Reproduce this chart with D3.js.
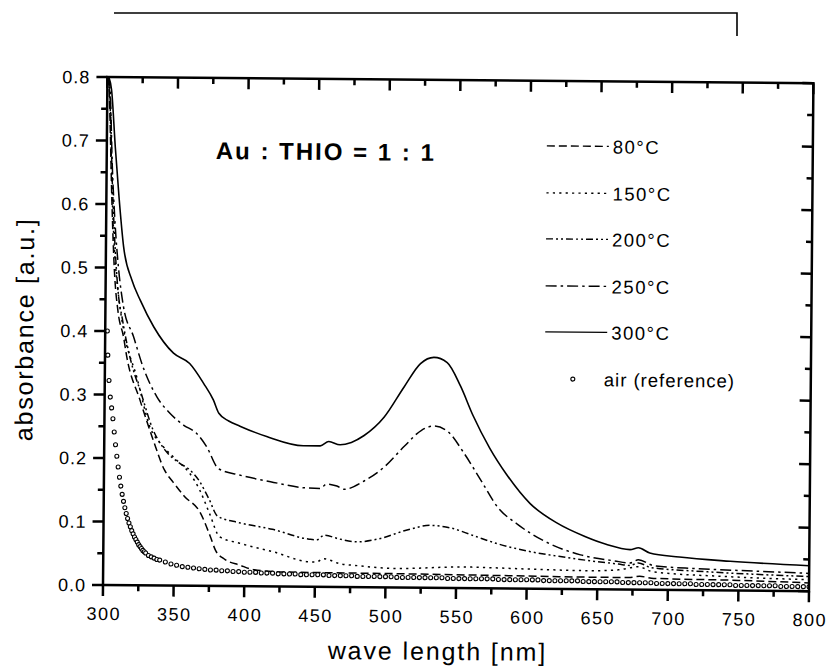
<!DOCTYPE html>
<html>
<head>
<meta charset="utf-8">
<script src="https://cdn.jsdelivr.net/npm/d3@7"></script>
<style>
  body { margin: 0; background: #fff; }
  svg { display: block; }
  text { font-family: "Liberation Sans", Arial, sans-serif; fill: #000; }
</style>
</head>
<body>
<div id="chart"></div>
<script>
// wavelength [nm], absorbance [a.u.]
const t80 = [[301,0.80],[302,0.74],[304,0.60],[306,0.50],[309,0.43],[313,0.391],[315.4,0.36],[325,0.292],[334.5,0.23],
  [342.8,0.182],[349,0.163],[357,0.141],[368.5,0.115],[375.5,0.079],[379.5,0.056],[385.5,0.043],[397,0.033],[407,0.026],
  [430,0.023],[500,0.022],[550,0.021],[600,0.020],[650,0.019],[672,0.019],[680,0.021],[690,0.018],[750,0.016],[800,0.013]];

const t150 = [[301,0.80],[302,0.76],[304,0.62],[306,0.53],[309,0.46],[313,0.402],[322.6,0.328],[332.2,0.250],[341.7,0.219],
  [351.3,0.198],[360.7,0.177],[367.9,0.151],[375,0.114],[382.3,0.0775],[396.5,0.0676],[420,0.0548],[446,0.0393],[451,0.039],
  [455.8,0.0446],[467.6,0.0368],[480,0.034],[508,0.030],[555,0.0333],[600,0.031],[645,0.0292],[665,0.031],[679,0.036],
  [690,0.028],[740,0.022],[800,0.018]];

const t200 = [[301,0.80],[302,0.77],[304,0.64],[306,0.55],[309,0.46],[312,0.42],[315.4,0.381],[320,0.34],[325,0.308],
  [334.5,0.245],[344,0.211],[353.4,0.193],[360.5,0.183],[367.6,0.165],[374.7,0.136],[380.7,0.110],[396,0.100],[419.6,0.090],
  [445.7,0.075],[451,0.074],[456.4,0.0815],[467,0.0757],[479.5,0.0714],[496,0.077],[515,0.0908],[531.5,0.0984],
  [545.7,0.0947],[562,0.0829],[579,0.0705],[602.5,0.0584],[626,0.0503],[645,0.0448],[665,0.040],[673,0.038],[679,0.042],
  [688,0.035],[720,0.030],[760,0.026],[800,0.023]];

const t250 = [[301,0.80],[302,0.78],[304,0.66],[306,0.58],[309,0.50],[312.8,0.4385],[320,0.392],[327,0.344],[337,0.297],
  [346.5,0.271],[356,0.253],[365.4,0.240],[372.6,0.219],[381,0.185],[396,0.175],[418,0.165],[441,0.156],[453,0.155],
  [458,0.162],[465,0.159],[470,0.154],[484,0.167],[498.6,0.190],[512.7,0.223],[524.6,0.248],[533.6,0.255],[543.5,0.246],
  [555,0.212],[567,0.170],[579,0.128],[593,0.1015],[612,0.0755],[638,0.054],[662,0.045],[673,0.042],[679,0.047],
  [690,0.038],[720,0.034],[760,0.031],[800,0.028]];

const t300 = [[301,0.80],[303,0.78],[306,0.69],[309,0.61],[312.5,0.533],[318.5,0.481],[324.6,0.449],[334.4,0.407],
  [348.5,0.366],[360,0.350],[370,0.319],[377,0.293],[381,0.272],[388,0.260],[396,0.252],[415,0.236],[441,0.222],
  [453,0.222],[459,0.229],[467,0.224],[475,0.228],[484,0.239],[498,0.268],[512,0.316],[523.5,0.353],[533,0.363],
  [542.4,0.355],[552,0.318],[561,0.272],[573,0.221],[585,0.180],[602,0.134],[621,0.104],[641,0.083],[656,0.071],
  [673,0.063],[679,0.066],[687,0.058],[708,0.052],[744,0.046],[800,0.040]];

const airRef = [[301.5,0.400],[302,0.362],[303,0.322],[304,0.296],[305,0.279],[306,0.262],[307,0.241],[308,0.221],
  [309,0.203],[310,0.186],[311,0.170],[312,0.156],[313,0.143],[314,0.132],[315,0.122],[316,0.113],[317,0.105],[318,0.098],
  [319,0.092],[320,0.086],[321,0.081],[322,0.076],[323,0.072],[324,0.068],[325,0.064],[326,0.061],[327,0.058],[328,0.055],
  [329,0.053],[330,0.051],[332,0.047],[334,0.045],[336,0.043],[338,0.041],[340,0.040],[344,0.037],[348,0.034],[352,0.032],
  [356,0.030],[360,0.029],[364,0.028],[368,0.027],[372,0.026],[376,0.025],[380,0.025],[384,0.024],[388,0.024],[392,0.023],
  [396,0.023],[400,0.022],[404,0.022],[408,0.022],[412,0.021],[416,0.021],[420,0.021],[424,0.020],[428,0.020],[432,0.020],
  [436,0.020],[440,0.019],[444,0.019],[448,0.019],[452,0.019],[456,0.019],[460,0.018],[464,0.018],[468,0.018],[472,0.018],
  [476,0.018],[480,0.017],[484,0.017],[488,0.017],[492,0.017],[496,0.017],[500,0.017],[504,0.017],[508,0.016],[512,0.016],
  [516,0.016],[520,0.016],[524,0.016],[528,0.016],[532,0.016],[536,0.016],[540,0.016],[544,0.015],[548,0.015],[552,0.015],
  [556,0.015],[560,0.015],[564,0.015],[568,0.015],[572,0.015],[576,0.015],[580,0.014],[584,0.014],[588,0.014],[592,0.014],
  [596,0.014],[600,0.014],[604,0.014],[608,0.014],[612,0.013],[616,0.013],[620,0.013],[624,0.013],[628,0.013],[632,0.013],
  [636,0.013],[640,0.012],[644,0.012],[648,0.012],[652,0.012],[656,0.012],[660,0.012],[664,0.012],[668,0.011],[672,0.011],
  [676,0.011],[680,0.011],[684,0.011],[688,0.011],[692,0.010],[696,0.010],[700,0.010],[704,0.010],[708,0.010],[712,0.010],
  [716,0.010],[720,0.009],[724,0.009],[728,0.009],[732,0.009],[736,0.009],[740,0.009],[744,0.009],[748,0.008],[752,0.008],
  [756,0.008],[760,0.008],[764,0.008],[768,0.008],[772,0.008],[776,0.008],[780,0.007],[784,0.007],[788,0.007],[792,0.007],
  [796,0.007],[800,0.007]];

const seriesNames = ["80°C", "150°C", "200°C", "250°C", "300°C"];
const seriesData  = [t80, t150, t200, t250, t300];
const dashes      = ["8,4", "2.2,4.2", "7,3,2,3,2,3", "11,4,2.5,4", null];

const xMajor = [300, 350, 400, 450, 500, 550, 600, 650, 700, 750, 800];
const xMinor = [325, 375, 425, 475, 525, 575, 625, 675, 725, 775];
const yMajor = [0.0, 0.1, 0.2, 0.3, 0.4, 0.5, 0.6, 0.7, 0.8];
const yMinor = [0.05, 0.15, 0.25, 0.35, 0.45, 0.55, 0.65, 0.75];

const W = 826, H = 666;
const mLeft = 103, mRight = 809, mTop = 77, mBottom = 585;
const tilt = 0.5; // the scanned page is turned slightly
const majorLen = 11, minorLen = 6;

const x = d3.scaleLinear().domain([300, 800]).range([mLeft, mRight]);
const y = d3.scaleLinear().domain([0, 0.8]).range([mBottom, mTop]);

const svg = d3.select("#chart").append("svg").attr("width", W).attr("height", H);

// bracket line above the plot
svg.append("path")
  .attr("d", `M114,13H737V36`)
  .attr("fill", "none").attr("stroke", "#000").attr("stroke-width", 1.6);

const g = svg.append("g").attr("transform", `rotate(${tilt},${mLeft},${mBottom})`);

g.append("clipPath").attr("id", "clip")
  .append("rect").attr("x", mLeft).attr("y", mTop).attr("width", mRight - mLeft).attr("height", mBottom - mTop);

const plot = g.append("g").attr("clip-path", "url(#clip)");

const line = d3.line().x(d => x(d[0])).y(d => y(d[1])).curve(d3.curveMonotoneX);

plot.selectAll("path.curve")
  .data(seriesData)
  .join("path")
    .attr("class", "curve")
    .attr("d", line)
    .attr("fill", "none")
    .attr("stroke", "#000")
    .attr("stroke-width", (d, i) => i === 4 ? 1.6 : 1.5)
    .attr("stroke-dasharray", (d, i) => dashes[i]);

plot.selectAll("circle.air")
  .data(airRef)
  .join("circle")
    .attr("class", "air")
    .attr("cx", d => x(d[0]))
    .attr("cy", d => y(d[1]))
    .attr("r", 2)
    .attr("fill", "#fff")
    .attr("stroke", "#000")
    .attr("stroke-width", 1.1);

// ticks: outward on left/bottom, inward on top/right
const xt = xMajor.map(v => ({ v, len: majorLen })).concat(xMinor.map(v => ({ v, len: minorLen })));
const yt = yMajor.map(v => ({ v, len: majorLen })).concat(yMinor.map(v => ({ v, len: minorLen })));
g.append("path")
  .attr("fill", "none")
  .attr("stroke", "#000")
  .attr("stroke-width", 2.5)
  .attr("d", [
    ...xt.map(t => `M${x(t.v)},${mBottom}v${t.len}`),
    ...xt.map(t => `M${x(t.v)},${mTop}v${t.len}`),
    ...yt.map(t => `M${mLeft},${y(t.v)}h${-t.len}`),
    ...yt.map(t => `M${mRight},${y(t.v)}h${-t.len}`)
  ].join(""));

g.append("rect")
  .attr("x", mLeft).attr("y", mTop).attr("width", mRight - mLeft).attr("height", mBottom - mTop)
  .attr("fill", "none").attr("stroke", "#000").attr("stroke-width", 2.5);

g.selectAll("text.xl")
  .data(xMajor)
  .join("text")
    .attr("class", "xl")
    .attr("x", d => x(d) + 1)
    .attr("y", mBottom + 35)
    .attr("text-anchor", "middle")
    .style("font-size", "18px")
    .style("letter-spacing", "1.5px")
    .text(d => d);

g.selectAll("text.yl")
  .data(yMajor)
  .join("text")
    .attr("class", "yl")
    .attr("x", mLeft - 17)
    .attr("y", d => y(d) + 6.5)
    .attr("text-anchor", "end")
    .style("font-size", "18px")
    .style("letter-spacing", "1px")
    .text(d => d.toFixed(1));

g.append("text")
  .attr("x", 438).attr("y", 657)
  .attr("text-anchor", "middle")
  .style("font-size", "25px")
  .style("letter-spacing", "1.9px")
  .text("wave length [nm]");

g.append("text")
  .attr("transform", "translate(31,330) rotate(-90)")
  .attr("text-anchor", "middle")
  .style("font-size", "25px")
  .style("letter-spacing", "1.8px")
  .text("absorbance [a.u.]");

g.append("text")
  .attr("x", 212).attr("y", 158)
  .style("font-size", "24px")
  .style("font-weight", "bold")
  .style("letter-spacing", "2px")
  .text("Au : THIO = 1 : 1");

// legend
const legRows = [142, 189, 235, 282, 328];
const leg = g.append("g");
leg.selectAll("line")
  .data(seriesNames)
  .join("line")
    .attr("x1", 543).attr("x2", 605)
    .attr("y1", (d, i) => legRows[i]).attr("y2", (d, i) => legRows[i])
    .attr("stroke", "#000").attr("stroke-width", 1.4)
    .attr("stroke-dasharray", (d, i) => dashes[i]);
leg.selectAll("text")
  .data(seriesNames)
  .join("text")
    .attr("x", 609)
    .attr("y", (d, i) => legRows[i] + 7)
    .style("font-size", "18.5px")
    .style("letter-spacing", "1.5px")
    .text(d => d);
leg.append("circle")
  .attr("cx", 571).attr("cy", 375).attr("r", 2)
  .attr("fill", "#fff").attr("stroke", "#000").attr("stroke-width", 1.1);
leg.append("text")
  .attr("x", 602).attr("y", 382)
  .style("font-size", "18.5px")
  .style("letter-spacing", "1px")
  .text("air (reference)");
</script>
</body>
</html>
